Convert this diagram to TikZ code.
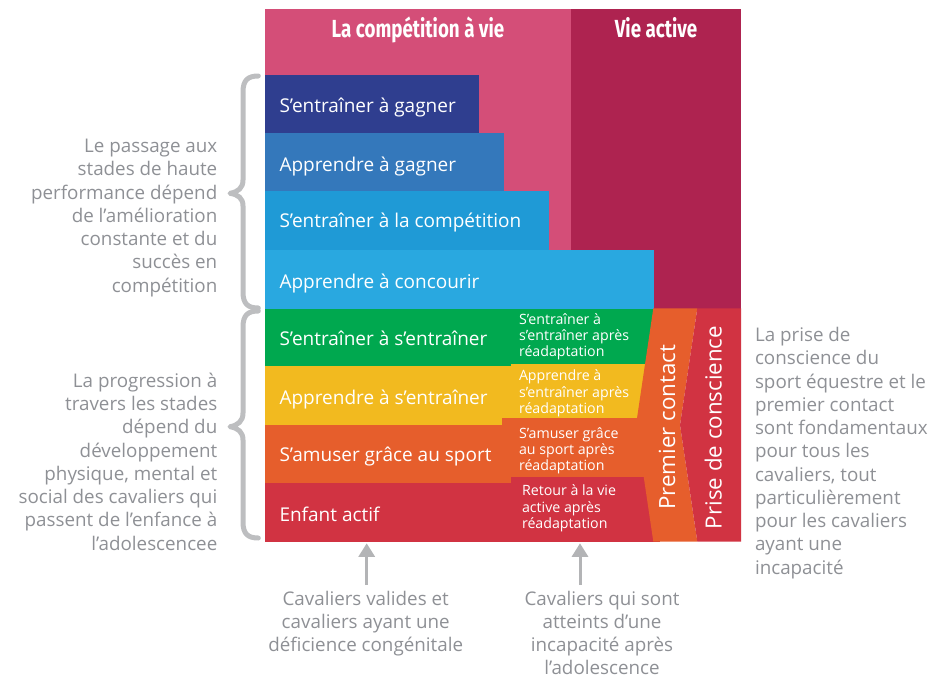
\documentclass[tikz,border=0pt]{standalone}
\usepackage{fontspec}
\usepackage{graphicx}
\setmainfont{Open Sans}
\newfontfamily\titlefont{Fira Sans}
\usetikzlibrary{arrows.meta}
\definecolor{pinkc}{HTML}{D44E78}
\definecolor{darkc}{HTML}{AE2350}
\definecolor{navyc}{HTML}{2F3E8F}
\definecolor{midbluec}{HTML}{3478BB}
\definecolor{bluec}{HTML}{1F9AD6}
\definecolor{lightbluec}{HTML}{29A8E0}
\definecolor{greenc}{HTML}{00A84F}
\definecolor{yellowc}{HTML}{F2BA1F}
\definecolor{orangec}{HTML}{E65E2C}
\definecolor{redc}{HTML}{D13342}
\definecolor{graytxtc}{HTML}{8E9095}
\definecolor{bracec}{HTML}{BDBEC0}
\definecolor{arrowc}{HTML}{B3B4B6}
\begin{document}
\begin{tikzpicture}[x=1pt,y=-1pt,
  titletxt/.style={font=\titlefont\bfseries\fontsize{24.7}{28}\selectfont, text=white, inner sep=0pt, outer sep=0pt, anchor=base},
  stagetxt/.style={font=\fontsize{19}{23}\selectfont, text=white, inner sep=0pt, outer sep=0pt, anchor=base west},
  rehabtxt/.style={font=\fontsize{14.2}{16.3}\selectfont, text=white, inner sep=0pt, outer sep=0pt, anchor=north west, align=left},
  sidetxt/.style={font=\fontsize{22.3}{26}\selectfont, text=white, inner sep=0pt, outer sep=0pt, anchor=base, rotate=90},
  graytxt/.style={font=\fontsize{18.8}{23.25}\selectfont, text=graytxtc, inner sep=0pt, outer sep=0pt},
  bracestyle/.style={draw=bracec, line width=5pt, line cap=round, line join=round},
  garrow/.style={draw=arrowc, line width=3pt, -{Triangle[length=13.5pt,width=16pt]}}
]
\useasboundingbox (0,0) rectangle (933,677);

% top blocks
\fill[pinkc] (265,9) rectangle (571,309);
\fill[darkc] (571,9) rectangle (741,309);
\node[titletxt] (tcomp) at (418,37.7) {\scalebox{0.76}[1]{La compétition à vie}};
\node[titletxt] (tvie) at (656,37.7) {\scalebox{0.76}[1]{Vie active}};

% upper stages
\fill[navyc] (265,75) rectangle (479,133);
\fill[midbluec] (265,133) rectangle (503.7,191);
\fill[bluec] (265,191) rectangle (549,250);
\fill[lightbluec] (265,250) rectangle (654,309);
\node[stagetxt] (s1) at (279.5,112.7) {S’entraîner à gagner};
\node[stagetxt] (s2) at (279.5,171) {Apprendre à gagner};
\node[stagetxt] (s3) at (279.5,227.5) {S’entraîner à la compétition};
\node[stagetxt] (s4) at (279.5,288.3) {Apprendre à concourir};

% lower stages
\fill[greenc] (265,309) rectangle (520,366);
\fill[yellowc] (265,366) rectangle (520,425);
\fill[orangec] (265,425) rectangle (520,483);
\fill[redc] (265,483) rectangle (520,541.5);
\node[stagetxt] (s5) at (279.5,345) {S’entraîner à s’entraîner};
\node[stagetxt] (s6) at (279.5,404.3) {Apprendre à s’entraîner};
\node[stagetxt] (s7) at (279.5,461) {S’amuser grâce au sport};
\node[stagetxt] (s8) at (279.5,521) {Enfant actif};

% rehab blocks
\fill[greenc] (511,309) rectangle (660,364);
\fill[yellowc] (511,364) rectangle (660,418);
\fill[orangec] (502,418) rectangle (660,477);
\fill[redc] (511,477) rectangle (660,541.5);
\node[rehabtxt] (r1) at (519,309.3) {\rule{0pt}{15pt}S’entraîner à\\s’entraîner après\\réadaptation};
\node[rehabtxt] (r2) at (519,365.7) {\rule{0pt}{15pt}Apprendre à\\s’entraîner après\\réadaptation};
\node[rehabtxt] (r3) at (519,423.3) {\rule{0pt}{15pt}S’amuser grâce\\au sport après\\réadaptation};
\node[rehabtxt] (r4) at (522,480.7) {\rule{0pt}{15pt}Retour à la vie\\active après\\réadaptation};

% premier contact / prise de conscience
\fill[orangec] (653.3,308.3) -- (636,425) -- (653.3,541.5) -- (697.3,541.5) -- (680,425) -- (697.3,308.3) -- cycle;
\fill[redc] (697.3,308.3) -- (680,425) -- (697.3,541.5) -- (741,541.5) -- (741,308.3) -- cycle;
\node[sidetxt] (pc) at (675,427.5) {Premier contact};
\node[sidetxt] (pdc) at (721.7,427.5) {Prise de conscience};

% braces
\draw[bracestyle] (258.3,76) .. controls (248,76) and (243,80) .. (243,92) -- (243,180)
  .. controls (243,188) and (238,192) .. (230,193.3)
  .. controls (238,194.6) and (243,198) .. (243,206) -- (243,292)
  .. controls (243,304) and (248,308) .. (258.3,308);
\draw[bracestyle] (258.3,311) .. controls (248,311) and (243,315) .. (243,327) -- (243,413)
  .. controls (243,421) and (238,425.4) .. (230,426.7)
  .. controls (238,428) and (243,432) .. (243,440) -- (243,522)
  .. controls (243,534) and (248,538) .. (258.3,538);

% gray texts
\node[graytxt, anchor=north east, align=right] (ltop) at (217.3,132.7) {\rule{0pt}{20pt}Le passage aux\\stades de haute\\performance dépend\\de l’amélioration\\constante et du\\succès en\\compétition};
\node[graytxt, anchor=north east, align=right] (lbot) at (217.3,367.3) {\rule{0pt}{20pt}La progression à\\travers les stades\\dépend du\\développement\\physique, mental et\\social des cavaliers qui\\passent de l’enfance à\\l’adolescencee};
\node[graytxt, anchor=north west, align=left] (rtxt) at (755,321.7) {\rule{0pt}{20pt}La prise de\\conscience du\\sport équestre et le\\premier contact\\sont fondamentaux\\pour tous les\\cavaliers, tout\\particulièrement\\pour les cavaliers\\ayant une\\incapacité};
\node[graytxt, anchor=north, align=center] (bl) at (365.7,585) {\rule{0pt}{20pt}Cavaliers valides et\\cavaliers ayant une\\déficience congénitale};
\node[graytxt, anchor=north, align=center] (br) at (602,585) {\rule{0pt}{20pt}Cavaliers qui sont\\atteints d’une\\incapacité après\\l’adolescence};

% arrows
\coordinate (a1s) at (366.7,585);
\coordinate (a1e) at (366.7,543.3);
\coordinate (a2s) at (580,585);
\coordinate (a2e) at (580,543.3);
\draw[garrow] (a1s) -- (a1e);
\draw[garrow] (a2s) -- (a2e);
\end{tikzpicture}
\end{document}
